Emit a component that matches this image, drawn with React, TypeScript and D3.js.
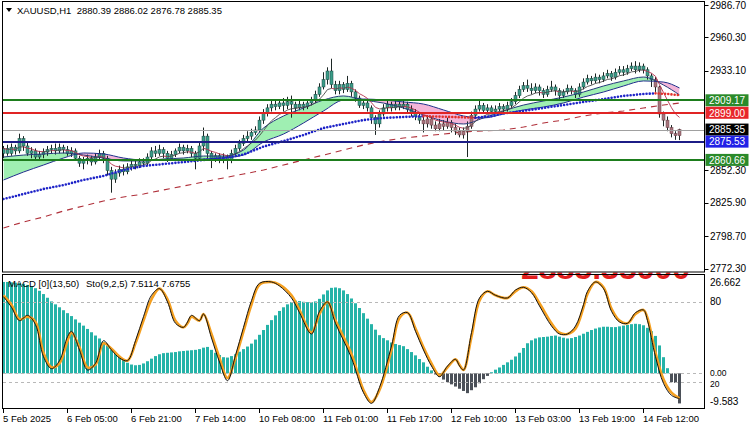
import React from "react";
import * as d3 from "d3";

// ---------- DATA ----------
const firstOpen = 2866;
const closes = [
  2870, 2866, 2871, 2868, 2878, 2872, 2866, 2868, 2863, 2865,
  2867, 2869, 2870, 2868, 2871, 2869, 2866, 2868, 2862, 2858,
  2860, 2862, 2859, 2863, 2866, 2862, 2852, 2845, 2850, 2853,
  2851, 2855, 2857, 2856, 2859, 2858, 2863, 2868, 2866, 2869,
  2866, 2862, 2865, 2868, 2871, 2868, 2870, 2866, 2862, 2872,
  2880, 2866, 2862, 2864, 2861, 2863, 2860, 2866, 2870, 2874,
  2878, 2880, 2883, 2885, 2893, 2899, 2903, 2906, 2904, 2907,
  2905, 2908, 2906, 2903, 2906, 2904, 2907, 2909, 2914, 2920,
  2926, 2933, 2922, 2917, 2922, 2918, 2923, 2916, 2911, 2905,
  2907, 2903, 2895, 2890, 2898, 2903, 2906, 2903, 2906, 2904,
  2906, 2902, 2899, 2896, 2893, 2890, 2894, 2889, 2886, 2890,
  2888, 2891, 2887, 2884, 2881, 2884, 2888, 2897, 2902, 2905,
  2901, 2903, 2900, 2902, 2904, 2902, 2905, 2908, 2913, 2918,
  2921, 2919, 2917, 2920, 2917, 2914, 2918, 2920, 2917, 2913,
  2916, 2919, 2917, 2914, 2920, 2924, 2927, 2925, 2928, 2926,
  2929, 2931, 2928, 2932, 2934, 2932, 2935, 2937, 2934, 2937,
  2934, 2929, 2926, 2920, 2898, 2893, 2887, 2882, 2880.39, 2885.35,
];
const highs = [
  2872, 2873, 2874, 2873, 2882, 2880, 2876, 2871, 2870, 2868,
  2870, 2872, 2873, 2874, 2874, 2873, 2872, 2871, 2870, 2864,
  2863, 2865, 2864, 2866, 2869, 2868, 2864, 2855, 2853, 2856,
  2857, 2858, 2860, 2860, 2862, 2862, 2866, 2871, 2872, 2873,
  2871, 2868, 2868, 2870, 2874, 2873, 2873, 2872, 2868, 2876,
  2887, 2882, 2868, 2866, 2866, 2866, 2865, 2869, 2873, 2877,
  2881, 2884, 2886, 2888, 2896, 2902, 2906, 2909, 2909, 2910,
  2911, 2912, 2913, 2908, 2909, 2908, 2910, 2912, 2917, 2923,
  2932, 2936, 2943, 2925, 2925, 2924, 2929, 2925, 2918, 2913,
  2910, 2909, 2905, 2897, 2901, 2906, 2909, 2908, 2909, 2908,
  2909, 2908, 2905, 2902, 2899, 2897, 2897, 2896, 2892, 2894,
  2893, 2895, 2893, 2890, 2887, 2887, 2892, 2900, 2905, 2909,
  2907, 2906, 2905, 2905, 2907, 2906, 2908, 2911, 2916, 2921,
  2924, 2926, 2923, 2923, 2922, 2919, 2921, 2925, 2922, 2919,
  2918, 2922, 2921, 2919, 2923, 2927, 2930, 2929, 2931, 2930,
  2932, 2934, 2933, 2935, 2937, 2937, 2938, 2940, 2941, 2940,
  2939, 2936, 2931, 2928, 2921, 2900, 2896, 2889, 2884, 2886.02,
];
const lows = [
  2862, 2864, 2864, 2865, 2866, 2868, 2864, 2862, 2860, 2860,
  2862, 2864, 2866, 2865, 2866, 2866, 2864, 2863, 2860, 2855,
  2853, 2857, 2856, 2857, 2860, 2858, 2848, 2834, 2842, 2847,
  2848, 2849, 2852, 2853, 2854, 2855, 2856, 2861, 2863, 2864,
  2862, 2859, 2860, 2863, 2866, 2865, 2866, 2863, 2853, 2860,
  2868, 2862, 2854, 2859, 2858, 2858, 2853, 2858, 2864, 2868,
  2872, 2875, 2877, 2881, 2883, 2890, 2896, 2900, 2901, 2902,
  2900, 2902, 2895, 2900, 2901, 2901, 2902, 2905, 2907, 2912,
  2918, 2922, 2919, 2914, 2914, 2915, 2916, 2912, 2908, 2903,
  2902, 2900, 2890, 2881, 2887, 2896, 2900, 2900, 2901, 2901,
  2902, 2898, 2896, 2893, 2890, 2883, 2887, 2886, 2884, 2884,
  2885, 2886, 2883, 2881, 2879, 2878, 2863, 2886, 2895, 2900,
  2898, 2899, 2898, 2898, 2900, 2899, 2900, 2903, 2906, 2911,
  2916, 2916, 2914, 2915, 2913, 2911, 2912, 2916, 2913, 2910,
  2911, 2914, 2914, 2911, 2912, 2918, 2922, 2922, 2923, 2923,
  2924, 2927, 2925, 2926, 2930, 2929, 2930, 2933, 2931, 2932,
  2931, 2926, 2920, 2916, 2895, 2888, 2884, 2879, 2877, 2876.78,
];

// moving-average band (read at every 5th bar)
const bandIdx = [0, 5, 10, 15, 20, 25, 30, 35, 40, 45, 50, 55, 60, 65, 70, 75, 80, 85, 90, 95, 100, 105, 110, 115, 120, 125, 130, 135, 140, 145, 150, 155, 160, 165, 169];
const bandFast = [2863.0, 2864.6, 2865.5, 2866.3, 2864.6, 2862.2, 2859.8, 2859.8, 2861.4, 2862.2, 2863.8, 2863.8, 2868.7, 2886.6, 2896.4, 2902.9, 2909.4, 2912.7, 2909.4, 2906.9, 2902.9, 2897.2, 2892.3, 2889.9, 2894.8, 2900.5, 2905.3, 2908.6, 2911.8, 2915.9, 2920.8, 2924.9, 2928.1, 2921.6, 2913.5];
const bandSlow = [2844.3, 2850.8, 2856.5, 2862.2, 2866.3, 2865.5, 2862.2, 2860.6, 2860.6, 2860.6, 2861.4, 2862.2, 2864.6, 2875.2, 2881.7, 2890.7, 2900.5, 2909.4, 2910.2, 2909.4, 2907.8, 2906.1, 2901.3, 2896.4, 2894.8, 2898.0, 2901.3, 2903.7, 2907.0, 2911.8, 2915.9, 2920.8, 2924.9, 2924.0, 2919.2];
const slowMA = [2805.3, 2810.1, 2814.2, 2819.1, 2823.2, 2827.2, 2830.5, 2832.9, 2836.2, 2839.4, 2842.7, 2846.0, 2849.2, 2852.4, 2856.5, 2860.6, 2864.6, 2868.7, 2872.8, 2876.0, 2878.5, 2880.1, 2881.7, 2883.4, 2884.2, 2885.0, 2887.4, 2890.7, 2893.1, 2896.4, 2898.8, 2900.5, 2902.9, 2905.3, 2906.9];

// dotted moving average
const dotIdx = [0, 5, 10, 15, 20, 25, 30, 35, 40, 45, 50, 55, 60, 65, 70, 75, 80, 85, 90, 95, 100, 105, 110, 115, 118, 122, 125, 130, 135, 140, 145, 150, 155, 160, 163, 166, 169];
const dotMA = [2828.8, 2832.9, 2837.0, 2840.2, 2844.3, 2847.6, 2852.4, 2855.7, 2857.3, 2858.9, 2860.6, 2862.2, 2865.0, 2871.5, 2876.0, 2880.9, 2886.6, 2889.9, 2893.1, 2894.8, 2895.6, 2896.2, 2895.8, 2895.3, 2895.0, 2896.3, 2898.5, 2900.5, 2902.9, 2905.3, 2907.8, 2910.2, 2912.7, 2914.3, 2914.8, 2914.3, 2913.3];

// horizontal levels
const levelPrices = [2909.17, 2899.0, 2885.35, 2875.53, 2860.66];
const priceTicks = [2986.7, 2960.3, 2933.1, 2852.3, 2825.9, 2798.7, 2772.3];

// MACD histogram, one value per bar
const macdHist = [
  24.9, 24.9, 24.8, 24.7, 24.6, 24.4, 24.1, 23.7, 23.2, 22.5,
  21.6, 20.6, 19.6, 18.8, 18.0, 17.2, 16.4, 15.6, 14.7, 13.8,
  13.0, 12.1, 11.2, 10.3, 9.5, 8.6, 7.6, 6.4, 5.4, 4.4,
  3.6, 2.9, 2.4, 2.2, 2.3, 2.7, 3.3, 4.0, 4.7, 5.2,
  5.5, 5.6, 5.7, 5.8, 6.0, 6.1, 6.2, 6.3, 6.4, 6.6,
  7.0, 7.2, 6.4, 5.6, 5.0, 4.4, 4.3, 4.7, 5.2, 5.9,
  6.6, 7.3, 8.1, 9.2, 10.5, 11.8, 13.2, 14.5, 15.8, 17.0,
  18.0, 18.8, 19.4, 19.8, 19.7, 19.5, 19.4, 19.4, 19.6, 20.3,
  21.5, 22.6, 23.3, 23.4, 23.2, 22.6, 21.6, 20.4, 19.1, 17.8,
  16.4, 14.9, 13.4, 11.9, 10.4, 9.6, 9.0, 8.4, 8.0, 7.7,
  7.4, 6.6, 5.8, 4.9, 3.9, 3.0, 1.8, 0.8, -0.3, -1.0,
  -1.7, -2.4, -3.0, -3.6, -4.2, -4.8, -5.4, -4.6, -3.8, -2.7,
  -1.6, -0.7, 0.3, 1.0, 1.6, 2.3, 3.0, 3.7, 4.6, 5.6,
  6.9, 8.2, 9.0, 9.5, 9.8, 9.9, 10.0, 10.2, 10.3, 10.0,
  9.7, 9.5, 9.6, 9.9, 10.3, 10.8, 11.3, 11.8, 12.2, 12.5,
  12.7, 12.7, 12.6, 12.6, 12.8, 13.0, 13.2, 13.4, 13.5, 13.4,
  13.1, 12.4, 11.5, 10.2, 7.6, 4.4, 1.4, -2.4, -2.6, -8.2,
];

// Stochastic signal (orange) and main (black)
const stochIdx = [0, 2, 4, 6, 8, 10, 12, 14, 16, 17, 19, 21, 23, 25, 27, 29, 31, 33, 35, 37, 39, 41, 43, 45, 46, 47, 49, 50, 52, 54, 56, 58, 60, 62, 64, 67, 69, 72, 74, 77, 79, 81, 83, 87, 90, 92, 94, 97, 99, 101, 103, 105, 107, 109, 111, 113, 114, 115, 117, 119, 121, 123, 126, 128, 130, 132, 134, 137, 139, 141, 143, 145, 146, 148, 150, 152, 154, 156, 158, 160, 161, 163, 165, 167, 169];
const stochSig = [85, 78, 67, 69, 65, 42, 31, 34, 51, 57, 46, 31, 33, 49, 45, 39, 36, 49, 66, 82, 90, 82, 66, 61, 64, 69, 66, 71, 56, 38, 23, 38, 58, 78, 93, 95, 93, 85, 74, 57, 71, 80, 66, 41, 14, 5, 14, 44, 68, 72, 60, 46, 34, 25, 31, 37, 33, 29, 54, 81, 88, 85, 83, 88, 91, 88, 79, 64, 57, 56, 60, 76, 86, 95, 91, 75, 66, 64, 71, 74, 68, 42, 22, 12, 7.6755];
const stochMain = [84, 76, 66, 70, 63, 39, 30, 36, 54, 58, 44, 29, 34, 51, 44, 38, 36, 51, 69, 85, 90, 80, 64, 61, 65, 70, 66, 71, 53, 35, 21, 40, 61, 81, 94, 95, 92, 83, 72, 56, 73, 80, 64, 38, 12, 4, 16, 47, 70, 72, 58, 44, 32, 24, 32, 37, 32, 29, 57, 83, 88, 85, 83, 89, 91, 87, 77, 62, 56, 56, 62, 78, 88, 95, 90, 73, 65, 64, 72, 74, 66, 39, 19, 10, 7.5114];

const timeLabels = ["5 Feb 2025", "6 Feb 05:00", "6 Feb 21:00", "7 Feb 14:00", "10 Feb 08:00", "11 Feb 01:00", "11 Feb 17:00", "12 Feb 10:00", "13 Feb 03:00", "13 Feb 19:00", "14 Feb 12:00"];
const timeLabelIdx = [0, 16, 32, 48, 64, 80, 96, 112, 128, 144, 160];

const titleText = "XAUUSD,H1  2880.39 2886.02 2876.78 2885.35";
const subTitle1 = "MACD [0](13,50)";
const subTitle2 = "Sto(9,2,5) 7.5114 7.6755";
const macdMax = 26.662;
const macdMin = -9.583;

// ---------- CHART ----------
const FONT = "'Liberation Sans', Arial, sans-serif";

export default function App() {
  const n = closes.length;
  const opens = closes.map((c, i) => (i === 0 ? firstOpen : closes[i - 1]));

  const x = d3.scaleLinear().domain([0, n - 1]).range([3.5, 3.5 + 4 * (n - 1)]);
  const yP = d3.scaleLinear().domain([2772.3, 2986.7]).range([268.5, 5]);
  const yS = d3.scaleLinear().domain([0, 100]).range([408.7, 275.3]);
  const yM = d3.scaleLinear().domain([macdMin, macdMax]).range([408.5, 275.5]);

  // fast EMA of closes
  const alpha = 2 / (8 + 1);
  const ema: number[] = [];
  closes.forEach((c, i) => ema.push(i === 0 ? c : ema[i - 1] + alpha * (c - ema[i - 1])));

  // dotted MA runs colored by slope
  const dotFalling = dotMA.slice(1).map((v, k) => v < dotMA[k]);
  const runs: { pts: [number, number][]; falling: boolean }[] = [];
  dotFalling.forEach((f, k) => {
    const p0: [number, number] = [dotIdx[k], dotMA[k]];
    const p1: [number, number] = [dotIdx[k + 1], dotMA[k + 1]];
    const last = runs[runs.length - 1];
    if (last && last.falling === f) last.pts.push(p1);
    else runs.push({ pts: [p0, p1], falling: f });
  });
  const barFalling = (i: number) => {
    let k = 0;
    for (let j = 0; j < dotIdx.length - 1; j++) if (dotIdx[j] <= i) k = j;
    return dotFalling[Math.min(k, dotFalling.length - 1)];
  };

  const ks = bandIdx.map((_, k) => k);
  const bandArea = d3
    .area<number>()
    .x((k) => x(bandIdx[k]))
    .y0((k) => yP(bandSlow[k]))
    .y1((k) => yP(bandFast[k]))
    .curve(d3.curveMonotoneX);
  const aboveSlow = d3
    .area<number>()
    .x((k) => x(bandIdx[k]))
    .y0(0)
    .y1((k) => yP(bandSlow[k]))
    .curve(d3.curveMonotoneX);
  const belowSlow = d3
    .area<number>()
    .x((k) => x(bandIdx[k]))
    .y0(430)
    .y1((k) => yP(bandSlow[k]))
    .curve(d3.curveMonotoneX);
  const fastLine = d3
    .line<number>()
    .x((k) => x(bandIdx[k]))
    .y((k) => yP(bandFast[k]))
    .curve(d3.curveMonotoneX);
  const slowLine = d3
    .line<number>()
    .x((k) => x(bandIdx[k]))
    .y((k) => yP(bandSlow[k]))
    .curve(d3.curveMonotoneX);
  const dashLine = d3
    .line<number>()
    .x((k) => x(bandIdx[k]))
    .y((k) => yP(slowMA[k]));
  const dotLine = d3
    .line<[number, number]>()
    .x((d) => x(d[0]))
    .y((d) => yP(d[1]));

  const stochLine = (vals: number[]) =>
    d3
      .line<number>()
      .x((k) => x(stochIdx[k]))
      .y((k) => yS(vals[k]))
      .curve(d3.curveCatmullRom.alpha(0.5))(stochIdx.map((_, k) => k)) || "";

  const levelStyles = [
    { line: "#1d7d1d", w: 2, box: "#2a8a2a" },
    { line: "#e02424", w: 2, box: "#e8262b" },
    { line: "#a0a0a0", w: 1, box: "#000000" },
    { line: "#1c1c86", w: 2, box: "#2121e6" },
    { line: "#1d7d1d", w: 2, box: "#2a8a2a" },
  ];

  const teal = { fill: "#3b9c88", stroke: "#1d4a43" };
  const brown = { fill: "#a7757d", stroke: "#6a3f46" };

  return (
    <>
      <style>{"body{margin:0}"}</style>
      <svg width={750} height={430} style={{ display: "block", background: "#fff" }} fontFamily={FONT}>
        <defs>
          <clipPath id="mainClip">
            <rect x={3} y={2} width={701} height={270} />
          </clipPath>
          <clipPath id="subClip">
            <rect x={3} y={275} width={701} height={133.5} />
          </clipPath>
          <clipPath id="aboveSlow">
            <path d={aboveSlow(ks) || ""} />
          </clipPath>
          <clipPath id="belowSlow">
            <path d={belowSlow(ks) || ""} />
          </clipPath>
          <clipPath id="redTextClip">
            <rect x={515} y={272.5} width={189} height={6.5} />
          </clipPath>
        </defs>
        <rect x={0} y={0} width={750} height={430} fill="#fff" />

        {/* ---------- main panel ---------- */}
        <g clipPath="url(#mainClip)">
          <g clipPath="url(#aboveSlow)">
            <path d={bandArea(ks) || ""} fill="#9fefb2" />
          </g>
          <g clipPath="url(#belowSlow)">
            <path d={bandArea(ks) || ""} fill="#f3b5d8" />
          </g>
          <path d={dashLine(ks) || ""} fill="none" stroke="#b0303a" strokeWidth={1.1} strokeDasharray="6,5" />
          {closes.map((c, i) => {
            const o = opens[i];
            const hi = Math.max(highs[i], o, c);
            const lo = Math.min(lows[i], o, c);
            const col = barFalling(i) ? brown : teal;
            const yt = yP(Math.max(o, c));
            const yb = yP(Math.min(o, c));
            return (
              <g key={i}>
                <line x1={x(i)} x2={x(i)} y1={yP(hi)} y2={yP(lo)} stroke="#1c2624" strokeWidth={1} />
                <rect x={x(i) - 1.5} y={yt} width={3} height={Math.max(1, yb - yt)} fill={col.fill} stroke={col.stroke} strokeWidth={0.5} />
              </g>
            );
          })}
          <path d={slowLine(ks) || ""} fill="none" stroke="#1f2f8c" strokeWidth={1} />
          <path d={fastLine(ks) || ""} fill="none" stroke="#243a7a" strokeWidth={1} />
          {ema.slice(1).map((v, j) => (
            <line
              key={j}
              x1={x(j)}
              x2={x(j + 1)}
              y1={yP(ema[j])}
              y2={yP(v)}
              stroke={v < ema[j] ? "#b5304c" : "#4a4a4a"}
              strokeWidth={0.9}
            />
          ))}
          {runs.map((r, k) => (
            <path
              key={k}
              d={dotLine(r.pts) || ""}
              fill="none"
              stroke={r.falling ? "#e2302c" : "#1f24c8"}
              strokeWidth={2.6}
              strokeLinecap="round"
              strokeDasharray="0 3.2"
            />
          ))}
          {levelPrices.map((p, k) => (
            <line
              key={k}
              x1={3}
              x2={704}
              y1={Math.round(yP(p)) + (levelStyles[k].w === 1 ? 0.5 : 0)}
              y2={Math.round(yP(p)) + (levelStyles[k].w === 1 ? 0.5 : 0)}
              stroke={levelStyles[k].line}
              strokeWidth={levelStyles[k].w}
            />
          ))}
        </g>

        {/* title */}
        <path d="M6,8 L12,8 L9,12 Z" fill="#000" />
        <text x={17} y={14} fontSize={9.5} fill="#000" style={{ whiteSpace: "pre" }}>
          {titleText}
        </text>

        {/* ---------- sub window ---------- */}
        <g clipPath="url(#subClip)">
          {macdHist.map((v, i) => {
            const y0 = yM(0);
            const y1 = yM(v);
            return (
              <rect
                key={i}
                x={x(i) - 1.5}
                y={Math.min(y0, y1)}
                width={3}
                height={Math.abs(y1 - y0)}
                fill={v >= 0 ? "#25b3a8" : "#4b5058"}
              />
            );
          })}
          {[yS(80), yM(0), yS(20)].map((yy, k) => (
            <line key={k} x1={3} x2={704} y1={Math.round(yy) + 0.5} y2={Math.round(yy) + 0.5} stroke="#b8b8b8" strokeWidth={1} strokeDasharray="3,3" />
          ))}
          <path d={stochLine(stochSig)} fill="none" stroke="#f5a020" strokeWidth={2.6} strokeLinejoin="round" />
          <path d={stochLine(stochMain)} fill="none" stroke="#111" strokeWidth={1} strokeLinejoin="round" />
        </g>
        <text x={8} y={287} fontSize={9.5} fill="#000">{subTitle1}</text>
        <text x={86} y={287} fontSize={9.5} fill="#000">{subTitle2}</text>

        {/* big red label partially visible */}
        <g clipPath="url(#redTextClip)">
          <text x={521} y={279} fontSize={32} fontWeight="bold" fill="#e21f1f">2885.35000</text>
        </g>

        {/* frames */}
        <rect x={2.5} y={1.5} width={702} height={270.5} fill="none" stroke="#000" strokeWidth={1} />
        <rect x={2.5} y={274.5} width={702} height={134} fill="none" stroke="#000" strokeWidth={1} />

        {/* price axis */}
        {priceTicks.map((p, k) => (
          <g key={k}>
            <line x1={704.5} x2={708.5} y1={Math.round(yP(p)) + 0.5} y2={Math.round(yP(p)) + 0.5} stroke="#000" />
            <text x={710} y={yP(p) + 3.5} fontSize={10} fill="#000">
              {p.toFixed(2)}
            </text>
          </g>
        ))}
        <rect x={706} y={272} width={44} height={3} fill="#fff" />
        {levelPrices.map((p, k) => (
          <g key={k}>
            <rect x={705.5} y={yP(p) - 6} width={43} height={12} fill={levelStyles[k].box} />
            <text x={709} y={yP(p) + 3.8} fontSize={10} fill="#fff">
              {p.toFixed(2)}
            </text>
          </g>
        ))}

        {/* sub axis */}
        <text x={710} y={286} fontSize={10} fill="#000">{macdMax.toFixed(3)}</text>
        <text x={710} y={yS(80) + 3.5} fontSize={10} fill="#000">80</text>
        <text x={710} y={yM(0) + 2.5} fontSize={8.5} fill="#000">0.00</text>
        <text x={710} y={yS(20) + 5} fontSize={8.5} fill="#000">20</text>
        <text x={710} y={405} fontSize={10} fill="#000">{macdMin.toFixed(3)}</text>

        {/* time axis */}
        {timeLabelIdx.map((i, k) => (
          <g key={k}>
            <line x1={Math.floor(x(i)) + 0.5} x2={Math.floor(x(i)) + 0.5} y1={408.5} y2={413} stroke="#000" />
            <text x={x(i) - 0.5} y={422} fontSize={9.5} fill="#000">
              {timeLabels[k]}
            </text>
          </g>
        ))}
      </svg>
    </>
  );
}
